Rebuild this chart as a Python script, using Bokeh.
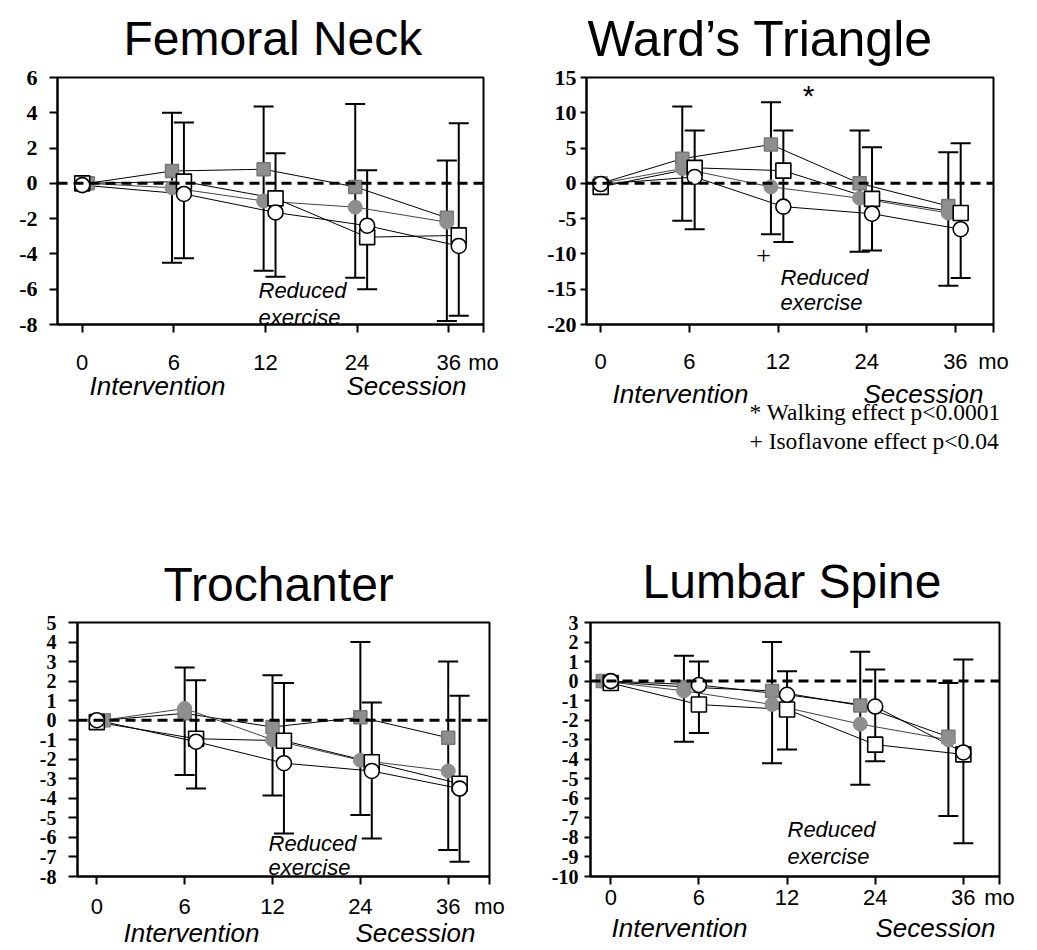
from bokeh.plotting import figure
from bokeh.models import (Range1d, FixedTicker, Span, Whisker, TeeHead,
                          ColumnDataSource, Label, LinearAxis, Title)
from bokeh.layouts import column, row
from bokeh.embed import file_html
from bokeh.resources import INLINE

# ---------------- data ----------------
month_labels = ["0", "6", "12", "24", "36"]
month_idx = [0, 1, 2, 3, 4]
err_idx = [1, 2, 3, 4]

# Femoral Neck (% change)
fn_gray_square = [0.0, 0.7, 0.8, -0.2, -1.95]
fn_gray_circle = [0.0, -0.25, -1.0, -1.35, -2.2]
fn_white_square = [0.0, 0.1, -0.85, -3.05, -2.95]
fn_white_circle = [-0.1, -0.6, -1.65, -2.4, -3.55]
fn_err_gray_upper = [4.0, 4.35, 4.5, 1.3]
fn_err_gray_lower = [-4.5, -4.95, -5.35, -7.8]
fn_err_white_upper = [3.45, 1.7, 0.75, 3.4]
fn_err_white_lower = [-4.25, -5.3, -6.0, -7.5]

# Ward's Triangle
wt_gray_square = [0.0, 3.5, 5.5, 0.0, -3.2]
wt_gray_circle = [0.0, 2.1, -0.5, -2.1, -4.2]
wt_white_square = [-0.5, 2.2, 1.8, -2.2, -4.2]
wt_white_circle = [-0.1, 0.9, -3.3, -4.3, -6.5]
wt_err_gray_upper = [10.9, 11.5, 7.5, 4.4]
wt_err_gray_lower = [-5.3, -7.2, -9.7, -14.5]
wt_err_white_upper = [7.5, 7.5, 5.1, 5.7]
wt_err_white_lower = [-6.5, -8.3, -9.5, -13.4]

# Trochanter
tr_gray_square = [0.0, 0.35, -0.35, 0.15, -0.9]
tr_gray_circle = [0.0, 0.6, -1.0, -2.05, -2.6]
tr_white_square = [-0.1, -0.95, -1.05, -2.15, -3.25]
tr_white_circle = [0.0, -1.1, -2.2, -2.6, -3.5]
tr_err_gray_upper = [2.7, 2.3, 4.0, 3.0]
tr_err_gray_lower = [-2.8, -3.85, -4.85, -6.65]
tr_err_white_upper = [2.05, 1.9, 0.9, 1.25]
tr_err_white_lower = [-3.5, -5.8, -6.05, -7.25]

# Lumbar Spine
ls_gray_square = [0.0, -0.3, -0.5, -1.25, -2.85]
ls_gray_circle = [0.0, -0.5, -1.2, -2.2, -3.0]
ls_white_square = [-0.1, -1.2, -1.45, -3.25, -3.75]
ls_white_circle = [0.0, -0.2, -0.7, -1.3, -3.65]
ls_err_gray_upper = [1.3, 2.0, 1.5, -0.1]
ls_err_gray_lower = [-3.1, -4.2, -5.3, -6.9]
ls_err_white_upper = [1.0, 0.5, 0.6, 1.1]
ls_err_white_lower = [-2.65, -3.5, -4.1, -8.3]

footnotes = ["* Walking effect p<0.0001", "+  Isoflavone effect p<0.04"]

GRAY = "#8e8e8e"
GRAY_EDGE = "#777777"

panels = [
    dict(title="Femoral Neck", title_size="48px", box=(0, 0, 518, 540), frame=(57, 77, 483, 324),
         xr=(-0.27, 4.38), yr=(-8, 6), yticks=list(range(-8, 7, 2)),
         gs=fn_gray_square, gc=fn_gray_circle, ws=fn_white_square, wc=fn_white_circle,
         egu=fn_err_gray_upper, egl=fn_err_gray_lower, ewu=fn_err_white_upper, ewl=fn_err_white_lower,
         goff=-0.02, woff=0.11, ylab_size="22px", ytick_out=8, ystand=12, xstand=17,
         title_left=123, title_standoff=21, bstand=-7,
         interv_c=157, secess_c=406, reduced=(258, 290), exercise=(258, 317)),
    dict(title="Ward\u2019s Triangle", title_size="50px", box=(518, 0, 1037, 540), frame=(586, 75, 993, 327),
         xr=(-0.16, 4.43), yr=(-20, 15), yticks=list(range(-20, 16, 5)),
         gs=wt_gray_square, gc=wt_gray_circle, ws=wt_white_square, wc=wt_white_circle,
         egu=wt_err_gray_upper, egl=wt_err_gray_lower, ewu=wt_err_white_upper, ewl=wt_err_white_lower,
         goff=-0.08, woff=0.06, ylab_size="22px", ytick_out=6, ystand=4, xstand=16,
         title_left=587, title_standoff=17, bstand=2,
         interv_c=680, secess_c=923, reduced=(780, 279), exercise=(780, 305)),
    dict(title="Trochanter", title_size="48px", box=(0, 540, 518, 950), frame=(77, 616, 489, 876),
         xr=(-0.22, 4.47), yr=(-8, 5), yticks=list(range(-8, 6)),
         gs=tr_gray_square, gc=tr_gray_circle, ws=tr_white_square, wc=tr_white_circle,
         egu=tr_err_gray_upper, egl=tr_err_gray_lower, ewu=tr_err_white_upper, ewl=tr_err_white_lower,
         goff=0.0, woff=0.13, ylab_size="20px", ytick_out=9, ystand=12, xstand=9,
         title_left=163, title_standoff=20, bstand=-4,
         interv_c=191, secess_c=415, reduced=(268, 842), exercise=(268, 867)),
    dict(title="Lumbar Spine", title_size="48px", box=(518, 540, 1037, 950), frame=(590, 622, 999, 877),
         xr=(-0.23, 4.41), yr=(-10, 3), yticks=list(range(-10, 4)),
         gs=ls_gray_square, gc=ls_gray_circle, ws=ls_white_square, wc=ls_white_circle,
         egu=ls_err_gray_upper, egl=ls_err_gray_lower, ewu=ls_err_white_upper, ewl=ls_err_white_lower,
         goff=-0.17, woff=0.0, ylab_size="20px", ytick_out=6, ystand=6, xstand=0,
         title_left=642, title_standoff=26, bstand=0,
         interv_c=679, secess_c=935, reduced=(787, 830), exercise=(787, 857)),
]


def make_panel(c):
    bx0, by0, bx1, by1 = c["box"]
    fl, ft, fr, fb = c["frame"]
    W, H = bx1 - bx0, by1 - by0
    p = figure(width=W, height=H, x_range=Range1d(*c["xr"]), y_range=Range1d(*c["yr"]),
               output_backend="svg", toolbar_location=None)
    p.min_border_left = fl - bx0
    p.min_border_right = bx1 - fr
    p.min_border_top = ft - by0
    p.min_border_bottom = by1 - fb
    p.grid.visible = False
    p.outline_line_color = "black"
    p.outline_line_width = 2
    p.background_fill_color = "white"
    p.border_fill_color = "white"

    x0, x1 = c["xr"]
    y0, y1 = c["yr"]

    def px2d(px, py):
        dx = x0 + (px - fl) / (fr - fl) * (x1 - x0)
        dy = y1 - (py - ft) / (fb - ft) * (y1 - y0)
        return dx, dy

    # title
    p.title.text = c["title"]
    p.title.text_font = "Liberation Sans"
    p.title.text_font_size = c["title_size"]
    p.title.text_font_style = "normal"
    p.title.text_color = "black"
    p.title.align = "left"
    p.title.vertical_align = "top"
    p.title.offset = c["title_left"] - fl
    p.title.standoff = c["title_standoff"]

    # bottom axis with month labels (+ the "mo" unit at the right edge)
    mo_tick = x1 - 0.001
    xa = p.xaxis[0]
    xa.ticker = FixedTicker(ticks=month_idx + [mo_tick])
    overrides = {i: lab for i, lab in zip(month_idx, month_labels)}
    overrides[mo_tick] = "mo"
    xa.major_label_overrides = overrides
    xa.minor_tick_line_color = None
    xa.major_tick_in = 0
    xa.major_tick_out = 8
    xa.major_tick_line_width = 2
    xa.axis_line_width = 2
    xa.major_label_standoff = c["xstand"]
    xa.major_label_text_font = "Liberation Sans"
    xa.major_label_text_font_size = "22px"
    xa.major_label_text_color = "black"

    # phase labels below the month axis
    ic, _ = px2d(c["interv_c"], 0)
    sc, _ = px2d(c["secess_c"], 0)
    pa = LinearAxis(ticker=FixedTicker(ticks=[ic, sc]),
                    major_label_overrides={ic: "Intervention", sc: "Secession"})
    pa.axis_line_color = None
    pa.major_tick_line_color = None
    pa.minor_tick_line_color = None
    pa.major_tick_in = 0
    pa.major_tick_out = 0
    pa.major_label_standoff = c["bstand"]
    pa.major_label_text_font = "Liberation Sans"
    pa.major_label_text_font_style = "italic"
    pa.major_label_text_font_size = "26px"
    pa.major_label_text_color = "black"
    p.add_layout(pa, "below")

    ya = p.yaxis[0]
    ya.ticker = FixedTicker(ticks=c["yticks"])
    ya.major_label_overrides = {v: str(v) for v in c["yticks"]}
    ya.minor_tick_line_color = None
    ya.major_tick_in = 0
    ya.major_tick_out = c["ytick_out"]
    ya.major_tick_line_width = 2
    ya.axis_line_width = 2
    ya.major_label_standoff = c["ystand"]
    ya.major_label_text_font = "Liberation Serif"
    ya.major_label_text_font_style = "bold"
    ya.major_label_text_font_size = c["ylab_size"]
    ya.major_label_text_color = "black"

    # zero reference line
    p.add_layout(Span(location=0, dimension="width", line_color="black",
                      line_width=3, line_dash="10 6"))

    gx = [i + c["goff"] for i in month_idx]
    wx = [i + c["woff"] for i in month_idx]
    gx[0] = c["goff"] + 0.08
    wx[0] = 0.0

    # connecting lines
    p.line(gx, c["gs"], line_color="black", line_width=1)
    p.line(gx, c["gc"], line_color="#444444", line_width=1)
    p.line(wx, c["ws"], line_color="black", line_width=1)
    p.line(wx, c["wc"], line_color="black", line_width=1)

    # error bars
    for off, up, lo in ((c["goff"], c["egu"], c["egl"]), (c["woff"], c["ewu"], c["ewl"])):
        src = ColumnDataSource(dict(x=[i + off for i in err_idx], upper=up, lower=lo))
        p.add_layout(Whisker(source=src, base="x", upper="upper", lower="lower",
                             line_color="black", line_width=2,
                             upper_head=TeeHead(size=20, line_width=2, line_color="black"),
                             lower_head=TeeHead(size=20, line_width=2, line_color="black")))

    # markers
    p.scatter(gx, c["gs"], marker="square", size=13, fill_color=GRAY,
              line_color=GRAY_EDGE, line_width=1.5)
    p.scatter(gx, c["gc"], marker="circle", size=14, fill_color=GRAY,
              line_color=GRAY, line_width=1)
    p.scatter(wx, c["ws"], marker="square", size=15, fill_color="white",
              line_color="black", line_width=1.6)
    p.scatter(wx, c["wc"], marker="circle", size=15, fill_color="white",
              line_color="black", line_width=1.6)

    def lab(text, pos, size, font="Liberation Sans", style="normal", align="left"):
        dx, dy = px2d(*pos)
        p.add_layout(Label(x=dx, y=dy, text=text, text_font=font, text_font_style=style,
                           text_font_size=size, text_align=align,
                           text_baseline="alphabetic", text_color="black"))

    lab("Reduced", c["reduced"], "22px", style="italic")
    lab("exercise", c["exercise"], "22px", style="italic")
    return p, lab


figs = []
for c in panels:
    figs.append(make_panel(c))

# annotations specific to Ward's Triangle
p_wt, lab_wt = figs[1]
lab_wt("*", (808, 93), "30px", align="center")
lab_wt("+", (763, 257), "26px", font="Liberation Serif", align="center")
p_wt.add_layout(Title(text="\n".join(footnotes), align="left", offset=749 - 586,
                      vertical_align="top",
                      text_font="Liberation Serif", text_font_size="23.5px",
                      text_font_style="normal", text_color="black",
                      text_line_height=1.1, standoff=-25), "below")

layout = column(row(figs[0][0], figs[1][0], spacing=0),
                row(figs[2][0], figs[3][0], spacing=0), spacing=0)

open("out.html", "w").write(file_html(layout, INLINE))
